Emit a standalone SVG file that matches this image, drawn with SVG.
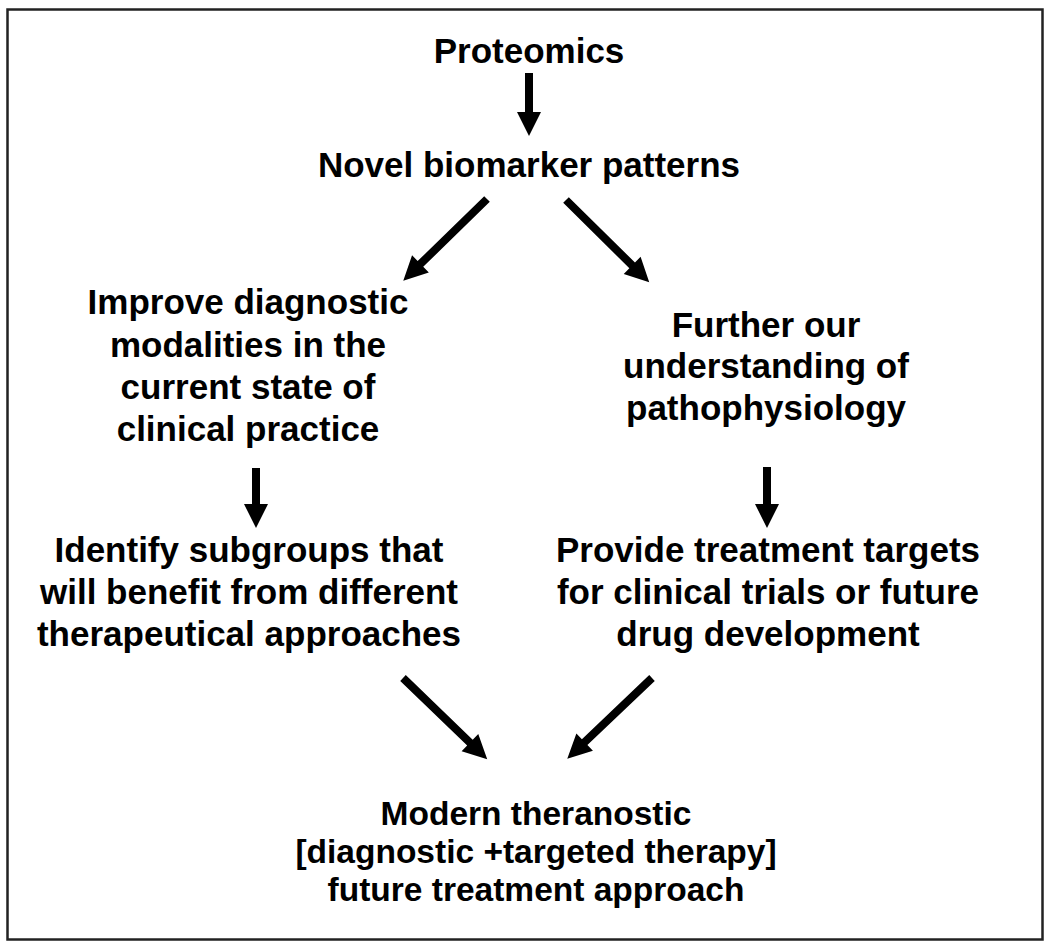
<svg xmlns="http://www.w3.org/2000/svg" width="1050" height="945" viewBox="0 0 1050 945">
<style>
text{font-family:"Liberation Sans",Arial,sans-serif;font-weight:bold;font-size:35px;fill:#000;text-anchor:middle}
#theranostic text{font-size:33.5px}
.arrow{fill:#000}
</style>
<rect x="0" y="0" width="1050" height="945" fill="#fff"/>
<rect id="frame" x="7.5" y="9.5" width="1035" height="930" fill="#fff" stroke="#222" stroke-width="2.5"/>
<g id="connectors">
<path class="arrow" d="M0,-4 L39,-4 L39,-12 L63,0 L39,12 L39,4 L0,4 Z" transform="translate(529,73) rotate(90)"/>
<path class="arrow" d="M0,-4 L93,-4 L93,-12 L117,0 L93,12 L93,4 L0,4 Z" transform="translate(487,199) rotate(135.7)"/>
<path class="arrow" d="M0,-4 L93,-4 L93,-12 L117,0 L93,12 L93,4 L0,4 Z" transform="translate(566,200) rotate(44.65)"/>
<path class="arrow" d="M0,-4 L36,-4 L36,-12 L60,0 L36,12 L36,4 L0,4 Z" transform="translate(256,468) rotate(90)"/>
<path class="arrow" d="M0,-4 L37,-4 L37,-12 L61,0 L37,12 L37,4 L0,4 Z" transform="translate(767,467) rotate(90)"/>
<path class="arrow" d="M0,-4 L93,-4 L93,-12 L117,0 L93,12 L93,4 L0,4 Z" transform="translate(403,678) rotate(43.96)"/>
<path class="arrow" d="M0,-4 L93,-4 L93,-12 L117,0 L93,12 L93,4 L0,4 Z" transform="translate(652,678) rotate(136.4)"/>
</g>
<g id="proteomics"><text x="529" y="63">Proteomics</text></g>
<g id="biomarker"><text x="529" y="177">Novel biomarker patterns</text></g>
<g id="diagnostic">
<text x="248" y="314">Improve diagnostic</text>
<text x="248" y="357">modalities in the</text>
<text x="248" y="399">current state of</text>
<text x="248" y="441">clinical practice</text>
</g>
<g id="understanding">
<text x="766" y="337">Further our</text>
<text x="766" y="378">understanding of</text>
<text x="766" y="420">pathophysiology</text>
</g>
<g id="subgroups">
<text x="249" y="562">Identify subgroups that</text>
<text x="249" y="604">will benefit from different</text>
<text x="249" y="646">therapeutical approaches</text>
</g>
<g id="targets">
<text x="768" y="562">Provide treatment targets</text>
<text x="768" y="604">for clinical trials or future</text>
<text x="768" y="646">drug development</text>
</g>
<g id="theranostic">
<text x="536" y="825">Modern theranostic</text>
<text x="536" y="863">[diagnostic +targeted therapy]</text>
<text x="536" y="901">future treatment approach</text>
</g>
</svg>
